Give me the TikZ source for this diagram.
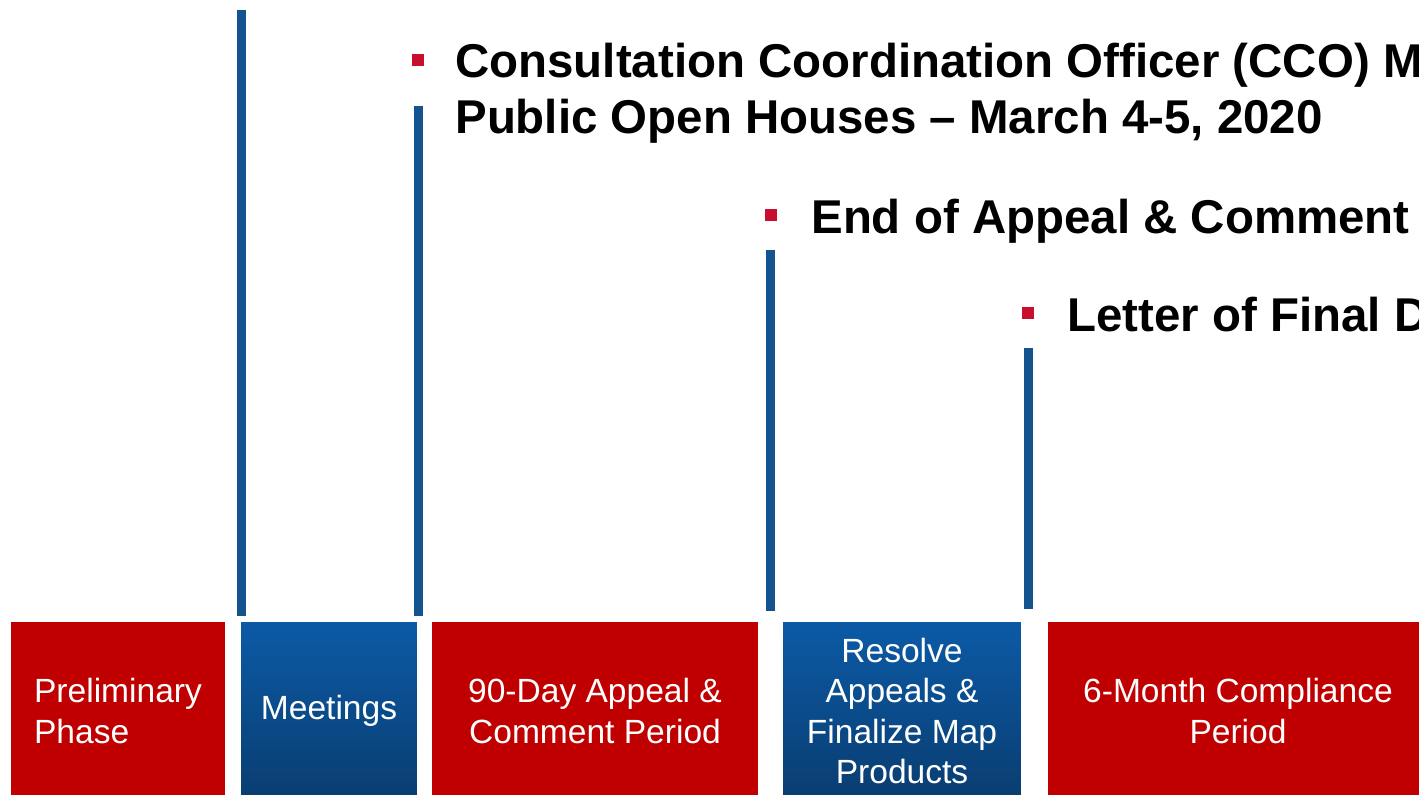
\documentclass[tikz,border=0pt]{standalone}
\usepackage{fontspec}
\setmainfont{Liberation Sans}
\usetikzlibrary{positioning,calc}

\definecolor{phasered}{HTML}{C00000}
\definecolor{phasetop}{HTML}{0B5AA6}
\definecolor{phasebottom}{HTML}{0A3D70}
\definecolor{markerblue}{HTML}{14538F}
\definecolor{bulletred}{HTML}{C8102E}

\begin{document}
\begin{tikzpicture} [x=0.02cm,y=-0.02cm,
  phase/.style={rectangle,inner sep=0pt,minimum height=3.56cm,text=white,align=center,
    font=\fontsize{19.1}{22.8}\selectfont},
  redphase/.style={phase,fill=phasered},
  bluephase/.style={phase,top color=phasetop,bottom color=phasebottom},
  marker/.style={draw=markerblue,line width=0.18cm},
  bullet/.style={rectangle,fill=bulletred,minimum size=0.24cm,inner sep=0pt},
  item/.style={anchor=base west,inner sep=0pt,font=\fontsize{27}{31}\selectfont\bfseries}]

  \useasboundingbox (0,0) rectangle (1419,794);
  \clip (0,0) rectangle (1419,794);

  % phases along the bottom
  \node[redphase] (prelim) [minimum width=4.28cm,align=left] at (118,711) {Preliminary\\Phase};
  \node[bluephase] (meet) [minimum width=3.52cm] at (329,711) {Meetings};
  \node[redphase] (appeal) [minimum width=6.52cm] at (595,711) {90-Day Appeal \&\\Comment Period};
  \node[bluephase] (resolve) [minimum width=4.76cm] at (902,711) {Resolve\\Appeals \&\\Finalize Map\\Products};
  \node[redphase] (comply) [minimum width=7.6cm] at (1238,711) {6-Month Compliance\\Period};

  % milestones
  \node[bullet] (b1) at (418,60) {};
  \node[item] (cco) at ($(b1)+(37,18)$) {Consultation Coordination Officer (CCO) M};
  \node[item] (poh) at ($(cco.base west)+(0,55)$) {Public Open Houses – March 4-5, 2020};

  \node[bullet] (b2) at (771,215) {};
  \node[item] (eac) at ($(b2)+(40,18)$) {End of Appeal \& Comment};

  \node[bullet] (b3) at (1028,313) {};
  \node[item] (lfd) at ($(b3)+(39,18)$) {Letter of Final D};

  % marker lines down to the phases
  \coordinate (top1) at (241,10);
  \coordinate (top2) at (418,106);
  \coordinate (top3) at (770,250);
  \coordinate (top4) at (1028,348);

  \draw[marker] (top1) -- ([yshift=0.12cm]top1 |- meet.north);
  \draw[marker] (top2) -- ([yshift=0.12cm]top2 |- meet.north);
  \draw[marker] (top3) -- ([yshift=0.22cm]top3 |- resolve.north);
  \draw[marker] (top4) -- ([yshift=0.26cm]top4 |- resolve.north);
\end{tikzpicture}
\end{document}
